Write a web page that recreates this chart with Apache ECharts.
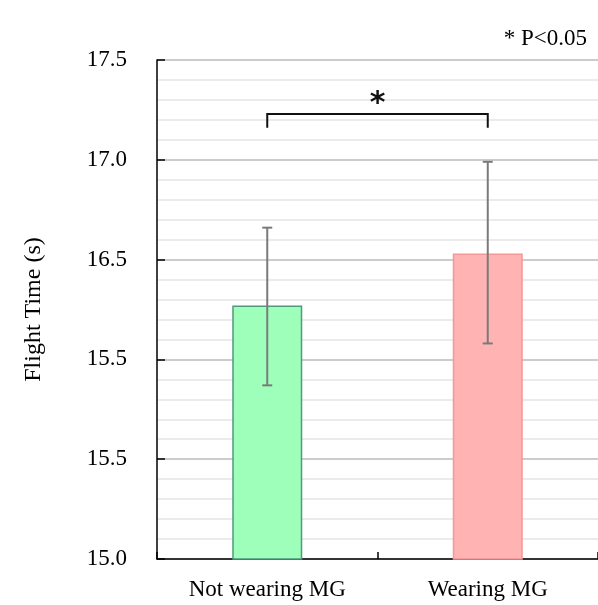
<!DOCTYPE html>
<html><head><meta charset="utf-8">
<script src="https://cdn.jsdelivr.net/npm/echarts@6/dist/echarts.min.js"></script>
<style>html,body{margin:0;padding:0;background:#fff}#c{width:598px;height:605px}</style>
</head><body><div id="c"></div>
<script>
const categories = ['Not wearing MG', 'Wearing MG'];
const means = [16.27, 16.53];
const errLow = [15.87, 16.08];
const errHigh = [16.66, 16.99];
const tickLabels = ['15.0', '15.5', '15.5', '16.5', '17.0', '17.5'];
const bracketLow = 17.16;
const bracketHigh = 17.23;
const sigMark = '*';
const noteText = '* P<0.05';
const yAxisTitle = 'Flight Time (s)';

const FONT = '"Liberation Serif", "Times New Roman", serif';
const chart = echarts.init(document.getElementById('c'));
chart.setOption({
  animation: false,
  grid: { left: 157, right: 0, top: 60, bottom: 46 },
  graphic: [{
    type: 'text', right: 11, top: 27,
    style: { text: noteText, font: '23px ' + FONT, fill: '#000' }
  }],
  xAxis: {
    type: 'category', data: categories,
    axisLine: { lineStyle: { color: '#000', width: 1.5 } },
    axisTick: { show: true, inside: true, length: 7, lineStyle: { color: '#000', width: 1.5 } },
    axisLabel: { color: '#000', fontFamily: FONT, fontSize: 23, margin: 19 }
  },
  yAxis: {
    type: 'value', min: 15, max: 17.5, interval: 0.5,
    name: yAxisTitle, nameLocation: 'middle', nameGap: 111,
    nameTextStyle: { color: '#000', fontFamily: FONT, fontSize: 24 },
    axisLine: { show: true, lineStyle: { color: '#000', width: 1.5 } },
    axisTick: { show: true, inside: true, length: 8, lineStyle: { color: '#000', width: 1.5 } },
    axisLabel: {
      color: '#000', fontFamily: FONT, fontSize: 23, margin: 30,
      formatter: v => tickLabels[Math.round((v - 15) / 0.5)]
    },
    splitLine: { show: true, lineStyle: { color: '#cccccc', width: 2 } },
    minorTick: { show: false, splitNumber: 5 },
    minorSplitLine: { show: true, lineStyle: { color: '#ebebeb', width: 2 } }
  },
  series: [
    {
      type: 'bar', barWidth: 70,
      data: means.map((v, i) => ({
        value: v,
        itemStyle: i === 0
          ? { color: '#9effba', borderColor: '#4f9a7c', borderWidth: 1.5 }
          : { color: '#ffb3b3', borderColor: '#f39797', borderWidth: 1.5 }
      }))
    },
    {
      type: 'custom', z: 5,
      data: categories.map((c, i) => [i, errLow[i], errHigh[i]]),
      renderItem: (params, api) => {
        const lo = api.coord([api.value(0), api.value(1)]);
        const hi = api.coord([api.value(0), api.value(2)]);
        const w = 5;
        const st = { stroke: '#7a7a7a', lineWidth: 2 };
        return { type: 'group', children: [
          { type: 'line', shape: { x1: hi[0], y1: hi[1], x2: lo[0], y2: lo[1] }, style: st },
          { type: 'line', shape: { x1: hi[0] - w, y1: hi[1], x2: hi[0] + w, y2: hi[1] }, style: st },
          { type: 'line', shape: { x1: lo[0] - w, y1: lo[1], x2: lo[0] + w, y2: lo[1] }, style: st }
        ]};
      }
    },
    {
      type: 'custom', z: 6,
      data: [[0, 1, bracketLow, bracketHigh]],
      renderItem: (params, api) => {
        const a = api.coord([api.value(0), api.value(2)]);
        const b = api.coord([api.value(0), api.value(3)]);
        const c = api.coord([api.value(1), api.value(3)]);
        const d = api.coord([api.value(1), api.value(2)]);
        return { type: 'group', children: [
          { type: 'polyline', shape: { points: [a, b, c, d] }, style: { stroke: '#111', lineWidth: 2, fill: null } },
          { type: 'text', x: (b[0] + c[0]) / 2, y: b[1] - 10,
            style: { text: sigMark, font: 'bold 30px "DejaVu Sans", sans-serif', fill: '#111', align: 'center', verticalAlign: 'middle' } }
        ]};
      }
    }
  ]
});
</script></body></html>
